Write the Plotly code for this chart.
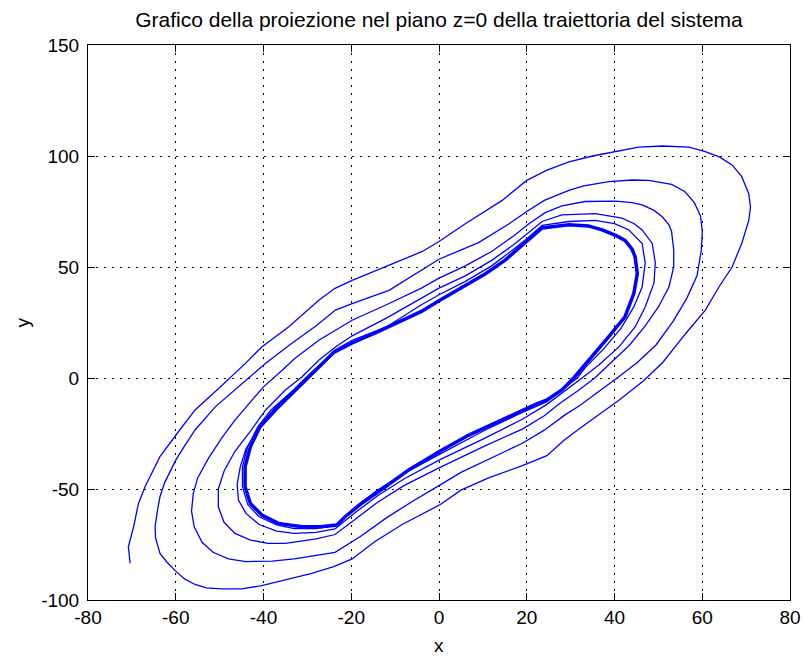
import plotly.graph_objects as go

# ---- trajectory (x, y), clockwise spiral ----
# start: left side going up, top, right side going down (revolution 0, upper half)
up0_x = [-70.4, -70.8, -69.6, -68.5, -67.0, -63.6, -59.7, -55.6, -50.6, -44.0, -40.4, -34.3, -27.4, -23.7,
         -19.8, -11.5, -3.8, 0.0, 6.0, 14.4, 20.0, 24.5, 29.6, 35.0, 40.6, 45.5, 51.0, 57.0, 60.7, 64.0, 66.8,
         69.0, 70.6, 71.0, 70.6, 69.0, 66.8, 63.8, 60.7, 56.0, 51.0, 46.5, 41.0, 36.0, 32.6, 28.5, 24.6, 19.0]
up0_y = [-83.5, -76.0, -67.0, -56.5, -49.0, -35.4, -25.0, -14.4, -5.4, 6.8, 14.0, 23.0, 35.0, 40.4,
         44.0, 50.8, 57.0, 61.5, 69.5, 80.0, 89.0, 93.5, 97.4, 100.0, 102.0, 104.0, 104.5, 104.0, 102.0, 99.5, 96.0,
         90.7, 83.0, 77.0, 71.0, 60.6, 50.0, 41.0, 30.6, 19.5, 7.0, -1.5, -10.0, -17.0, -22.0, -28.0, -35.0, -39.5]

# revolution 0, lower half: bottom and left side going up
lo0_x = [11.3, 5.0, 0.3, -8.4, -14.5, -19.8, -24.0, -29.0, -35.0, -40.4, -45.0, -49.5, -53.0, -55.6, -58.0,
         -60.0, -62.0, -63.6, -64.6, -64.7, -64.2, -63.6, -62.5, -60.0, -57.8, -55.6, -51.0, -45.0, -39.5,
         -34.0, -28.0, -23.6, -19.8]
lo0_y = [-45.0, -50.5, -57.0, -66.0, -73.5, -81.5, -85.0, -88.0, -91.0, -93.5, -95.0, -95.0, -94.5, -93.0, -90.5,
         -87.0, -83.0, -79.0, -72.0, -67.0, -60.0, -53.5, -47.0, -37.0, -30.0, -23.4, -13.0, -3.0, 6.6,
         15.0, 23.5, 30.6, 33.5]

up1_x = [-11.4, -4.0, 0.0, 9.0, 16.0, 20.0, 24.0, 29.6, 33.0, 38.7, 44.0, 47.8, 53.0, 56.0, 58.2, 59.6, 60.0,
         59.8, 58.8, 56.5, 53.5, 49.5, 45.2, 40.6, 36.4, 32.0, 28.8, 24.0, 19.0]
up1_y = [39.5, 48.5, 53.5, 61.0, 69.5, 75.0, 80.0, 84.5, 86.5, 88.5, 89.2, 89.0, 87.2, 84.0, 79.0, 73.0, 66.0,
         57.7, 46.0, 36.0, 26.0, 15.0, 7.0, 0.0, -6.0, -12.5, -16.5, -23.5, -29.4]

lo1_x = [11.0, 5.0, 0.0, -6.0, -12.0, -18.0, -23.7, -28.0, -33.0, -38.0, -44.0, -48.0, -51.5, -54.0, -55.8,
         -56.4, -56.0, -55.0, -52.5, -49.5, -46.5, -43.5, -40.0, -36.0, -32.8, -27.4, -23.6, -19.8]
lo1_y = [-37.0, -42.5, -48.5, -55.5, -63.0, -71.5, -78.5, -80.0, -81.5, -82.5, -82.7, -81.5, -78.5, -74.0, -67.0,
         -60.0, -52.0, -45.0, -36.0, -27.0, -19.0, -12.0, -4.0, 3.0, 8.9, 17.0, 21.6, 26.0]

up2_x = [-12.0, -4.0, 0.0, 6.0, 12.0, 17.0, 20.5, 24.2, 28.0, 33.3, 40.2, 44.0, 46.3, 49.0, 50.9, 52.4, 53.0,
         53.5, 53.5, 52.4, 50.0, 47.0, 43.5, 39.5, 35.5, 31.5, 27.5, 24.0, 19.0]
up2_y = [33.0, 40.5, 45.0, 50.5, 57.0, 64.0, 69.5, 74.5, 77.5, 79.5, 79.7, 79.0, 78.0, 75.5, 72.6, 69.0, 66.0,
         57.7, 50.0, 41.0, 32.0, 23.5, 15.0, 7.5, 0.0, -6.0, -11.5, -17.0, -23.0]

lo2_x = [10.0, 0.0, -8.0, -14.0, -19.0, -23.7, -28.0, -31.0, -35.0, -39.0, -43.0, -46.5, -49.0, -50.3, -50.3,
         -49.0, -46.5, -43.0, -39.5, -35.0, -31.2, -27.4, -23.6, -19.8]
lo2_y = [-31.0, -40.5, -48.5, -56.0, -63.5, -70.5, -72.5, -73.5, -74.5, -74.5, -73.0, -70.0, -65.0, -58.0, -50.0,
         -42.0, -33.0, -24.0, -14.4, -5.4, 0.6, 8.0, 14.0, 19.0]

up3_x = [-12.0, -4.0, 0.0, 6.0, 12.0, 17.0, 20.5, 23.5, 28.0, 35.6, 41.7, 44.5, 46.3, 48.6, 49.3, 49.0, 47.0,
         44.7, 41.0, 36.5, 32.6, 28.5, 24.5, 19.0]
up3_y = [27.0, 36.0, 40.5, 46.0, 53.0, 60.0, 65.5, 70.5, 73.5, 74.0, 72.0, 69.5, 66.7, 60.6, 51.8, 42.8, 32.0,
         23.0, 14.0, 6.0, 0.0, -6.0, -12.0, -18.6]

lo3_x = [10.0, 0.0, -8.0, -14.0, -19.0, -23.7, -28.0, -33.0, -37.0, -41.0, -44.0, -45.7, -46.0, -45.3, -44.0,
         -41.5, -38.3, -34.0, -29.5, -26.0, -24.0, -19.8, -12.0, -4.0, 0.0]
lo3_y = [-27.5, -37.0, -45.5, -53.0, -60.5, -68.0, -69.5, -70.0, -69.0, -66.0, -61.0, -55.0, -48.0, -40.0, -32.0,
         -23.5, -15.5, -7.0, 1.5, 7.5, 12.3, 17.0, 23.0, 33.0, 37.5]

up4_x = [6.0, 12.0, 17.0, 20.5, 23.5, 29.6, 35.6, 40.0, 43.3, 46.3, 47.0, 46.3, 44.4, 41.5, 37.5, 33.5, 31.5,
         28.0, 24.5, 19.0]
up4_y = [43.5, 50.5, 58.0, 63.5, 68.8, 70.5, 71.0, 69.5, 66.7, 60.6, 51.8, 41.0, 32.0, 22.5, 13.0, 5.0, 0.0,
         -5.5, -10.8, -15.5]

lo4_x = [10.0, 0.0, -8.0, -14.0, -19.0, -23.5, -28.0, -33.0, -37.0, -41.0, -43.6, -44.8, -44.8, -43.6, -41.3,
         -38.3, -33.5, -28.8, -24.2]
lo4_y = [-24.0, -34.5, -43.0, -50.5, -58.0, -66.5, -67.8, -67.8, -66.2, -62.5, -57.0, -49.0, -40.0, -31.0, -22.0,
         -14.4, -6.0, 3.0, 11.2]

# limit cycle (the dense band the spiral winds onto)
cycle_x = [-24.0, -19.8, -14.0, -8.4, -4.0, 0.0, 5.0, 10.6, 15.0, 18.5, 21.0, 23.5, 29.6, 34.0, 37.2, 40.5,
           42.4, 44.0, 44.7, 45.2, 44.4, 42.4, 38.7, 34.5, 30.7, 28.0, 24.5, 21.9, 14.4, 6.8, 0.2, -6.9, -12.2,
           -17.6, -21.4, -23.3, -27.0, -31.2, -36.6, -40.4, -43.0, -44.2, -44.2, -43.0, -40.8, -37.3, -33.5,
           -28.5, -24.0]
cycle_y = [11.5, 15.8, 20.8, 25.8, 30.0, 34.8, 40.5, 47.0, 53.0, 59.0, 63.5, 67.6, 69.0, 68.5, 66.7, 64.0,
           62.0, 58.0, 54.6, 47.0, 38.0, 27.6, 18.6, 9.0, 0.0, -5.4, -10.0, -12.0, -19.0, -25.7, -33.0, -41.4, -49.0,
           -56.4, -62.5, -66.2, -67.0, -67.0, -65.5, -61.7, -56.5, -49.0, -40.0, -31.0, -22.0, -14.4, -7.0,
           3.0, 11.5]

x_ticks = [-80, -60, -40, -20, 0, 20, 40, 60, 80]
y_ticks = [-100, -50, 0, 50, 100, 150]

title_text = "Grafico della proiezione nel piano z=0 della traiettoria del sistema"

trans_x = up0_x + lo0_x + up1_x + lo1_x + up2_x + lo2_x + up3_x + lo3_x + up4_x + lo4_x + cycle_x
trans_y = up0_y + lo0_y + up1_y + lo1_y + up2_y + lo2_y + up3_y + lo3_y + up4_y + lo4_y + cycle_y

BLUE = "rgb(0,0,255)"
FONT = "Liberation Sans, Arial, sans-serif"

fig = go.Figure()
fig.add_trace(go.Scatter(x=cycle_x, y=cycle_y, mode="lines",
                         line=dict(color=BLUE, width=3.5), hoverinfo="skip", showlegend=False))
fig.add_trace(go.Scatter(x=trans_x, y=trans_y, mode="lines",
                         line=dict(color=BLUE, width=1.3), showlegend=False))

axis_common = dict(
    showline=True, linecolor="black", linewidth=1, mirror="ticks",
    ticks="inside", ticklen=7, tickcolor="black", tickwidth=1,
    showgrid=True, gridcolor="black", gridwidth=1, griddash="2px,6px",
    zeroline=False, automargin=False,
    tickfont=dict(family=FONT, size=19, color="black"),
)

fig.update_xaxes(range=[-80, 80], tickvals=x_ticks, ticktext=[str(v) for v in x_ticks],
                 ticklabelstandoff=0, **axis_common)
fig.update_yaxes(range=[-100, 150], tickvals=y_ticks, ticktext=[str(v) for v in y_ticks],
                 ticklabelstandoff=4, **axis_common)

fig.update_layout(
    width=803, height=656, autosize=False,
    margin=dict(l=88, r=13, t=45, b=56, autoexpand=False),
    paper_bgcolor="white", plot_bgcolor="white",
    title=dict(text=title_text, x=0.5, xref="paper", xanchor="center",
               y=1 - 20 / 656, yref="container", yanchor="middle",
               font=dict(family=FONT, size=21, color="black")),
    annotations=[
        dict(text="x", xref="paper", yref="paper", x=0.5, y=-(645 - 600) / 555,
             xanchor="center", yanchor="middle", showarrow=False,
             font=dict(family=FONT, size=19, color="black")),
        dict(text="y", xref="paper", yref="paper", x=-(88 - 22) / 702, y=0.5,
             xanchor="center", yanchor="middle", showarrow=False, textangle=-90,
             font=dict(family=FONT, size=19, color="black")),
    ],
)

fig.write_html("out.html", config={"displayModeBar": False, "responsive": False},
               post_script="document.body.style.margin='0';document.body.style.overflow='hidden';")
